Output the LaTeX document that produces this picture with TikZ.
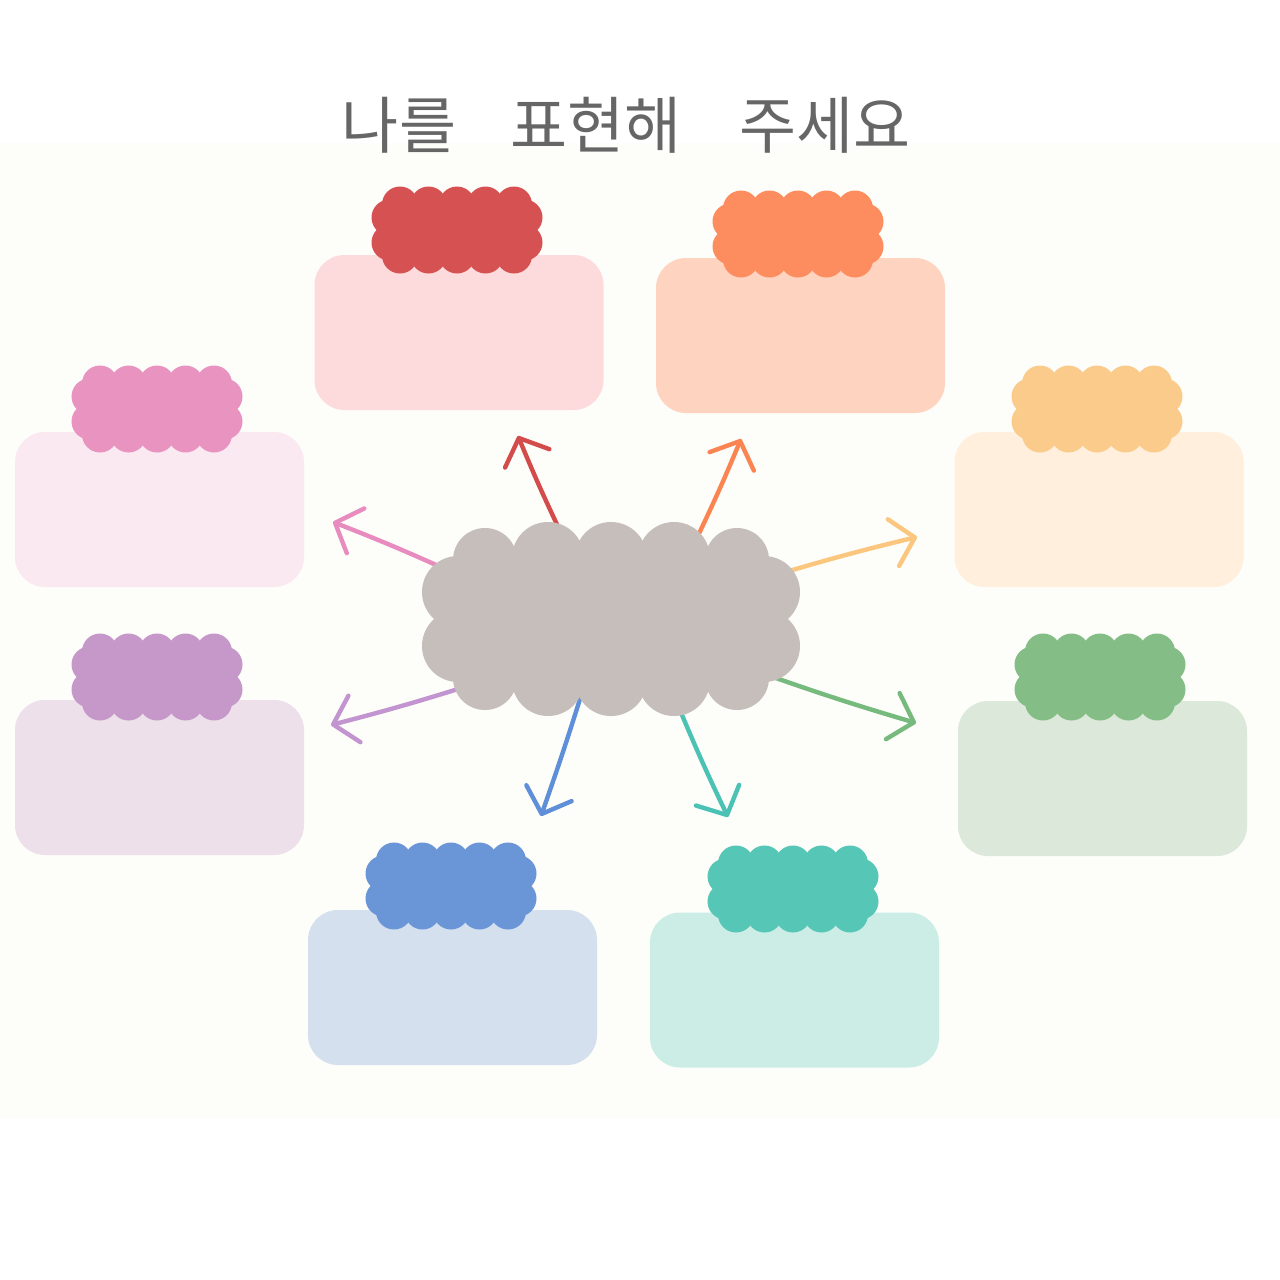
\documentclass[tikz,border=0pt]{standalone}
\usepackage{fontspec}
\newfontfamily\krfont{Noto Sans CJK KR}
\usetikzlibrary{arrows.meta}
\definecolor{bgcream}{HTML}{FDFDF9}
\definecolor{titlegray}{HTML}{666666}
\definecolor{cloudgray}{HTML}{C5BEBA}
% strong colours
\definecolor{cRed}{HTML}{D65252}
\definecolor{cOrange}{HTML}{FD8C5E}
\definecolor{cPink}{HTML}{E893C0}
\definecolor{cYellow}{HTML}{FACB8B}
\definecolor{cPurple}{HTML}{C598C9}
\definecolor{cGreen}{HTML}{84BE86}
\definecolor{cBlue}{HTML}{6A96D8}
\definecolor{cTeal}{HTML}{56C6B6}
% arrow colours
\definecolor{aRed}{HTML}{D44B4B}
\definecolor{aOrange}{HTML}{FB8552}
\definecolor{aPink}{HTML}{E88CC0}
\definecolor{aYellow}{HTML}{FBC67E}
\definecolor{aPurple}{HTML}{C295D0}
\definecolor{aGreen}{HTML}{76BA7D}
\definecolor{aBlue}{HTML}{5E8FD8}
\definecolor{aTeal}{HTML}{4CC2B5}
% box colours
\definecolor{bRed}{HTML}{FDDADB}
\definecolor{bOrange}{HTML}{FED3C0}
\definecolor{bPink}{HTML}{FBE9F1}
\definecolor{bYellow}{HTML}{FFEFDC}
\definecolor{bPurple}{HTML}{EEE0EA}
\definecolor{bGreen}{HTML}{DCE8D9}
\definecolor{bBlue}{HTML}{D4E0EE}
\definecolor{bTeal}{HTML}{CCEDE6}
\newcommand{\smallcloud}[3]{%
  \begin{scope}[shift={(#1,#2)}]
    \fill[#3] (-68,-26) rectangle (68,26);
    \foreach \xx in {-57,-28.5,0,28.5,57}{\fill[#3] (\xx,-25.5) circle[radius=18]; \fill[#3] (\xx,25.5) circle[radius=18];}
    \foreach \yy in {-12.5,12.5}{\fill[#3] (-67.5,\yy) circle[radius=18]; \fill[#3] (67.5,\yy) circle[radius=18];}
  \end{scope}}
\begin{document}
\begin{tikzpicture}[x=0.5pt,y=-0.5pt,
  infobox/.style={rounded corners=15pt, minimum width=144.5pt, minimum height=77.5pt, inner sep=0pt, draw=none},
  arr/.style={line width=2.2pt, line cap=round, -{Straight Barb[length=11pt,width=24pt,round]}},
  titletext/.style={font=\krfont\fontsize{31pt}{31pt}\selectfont, text=titlegray, inner sep=0pt}]
\useasboundingbox (0,0) rectangle (1280,1280);
\fill[white] (0,0) rectangle (1280,1280);
\fill[bgcream] (0,143) rectangle (1280,1118);
% title
\node[titletext] (t1) at (399,125) {나를};
\node[titletext] (t2) at (596,125) {표현해};
\node[titletext] (t3) at (825,125) {주세요};
% boxes
\node[infobox, fill=bRed] (boxRed) at (459,332.5) {};
\node[infobox, fill=bOrange] (boxOrange) at (800.5,335.5) {};
\node[infobox, fill=bPink] (boxPink) at (159.5,509.5) {};
\node[infobox, fill=bYellow] (boxYellow) at (1099,509.5) {};
\node[infobox, fill=bPurple] (boxPurple) at (159.5,777.5) {};
\node[infobox, fill=bGreen] (boxGreen) at (1102.5,778.5) {};
\node[infobox, fill=bBlue] (boxBlue) at (452.5,987.5) {};
\node[infobox, fill=bTeal] (boxTeal) at (794.5,990) {};
% small clouds
\smallcloud{457}{230}{cRed}
\smallcloud{798}{234}{cOrange}
\smallcloud{157}{409}{cPink}
\smallcloud{1097}{409}{cYellow}
\smallcloud{157}{677}{cPurple}
\smallcloud{1100}{677}{cGreen}
\smallcloud{451}{886}{cBlue}
\smallcloud{793}{889}{cTeal}
% arrows
\coordinate (sRed) at (562,535);    \coordinate (eRed) at (518,436);
\coordinate (sOrange) at (694,544); \coordinate (eOrange) at (741,439);
\coordinate (sPink) at (454,573);   \coordinate (ePink) at (333,522);
\coordinate (sYellow) at (779,574); \coordinate (eYellow) at (917,537);
\coordinate (sPurple) at (474,684); \coordinate (ePurple) at (331,725);
\coordinate (sGreen) at (756,671);  \coordinate (eGreen) at (916,723);
\coordinate (sBlue) at (585,683);   \coordinate (eBlue) at (541,816);
\coordinate (sTeal) at (677,703);   \coordinate (eTeal) at (728,817);
\draw[arr, aRed] (sRed) to[bend left=1.5] (eRed);
\draw[arr, aOrange] (sOrange) to[bend right=1.5] (eOrange);
\draw[arr, aPink] (sPink) to[bend right=1.5] (ePink);
\draw[arr, aYellow] (sYellow) to[bend left=1.5] (eYellow);
\draw[arr, aPurple] (sPurple) to[bend left=1.5] (ePurple);
\draw[arr, aGreen] (sGreen) to[bend right=1.5] (eGreen);
\draw[arr, aBlue] (sBlue) to[bend left=1] (eBlue);
\draw[arr, aTeal] (sTeal) to[bend right=1.5] (eTeal);
% central cloud
\begin{scope}[shift={(611,619)}]
  \fill[cloudgray] (-155,-61) rectangle (155,61);
  \foreach \xx in {-63,0,63}{\fill[cloudgray] (\xx,-61) circle[radius=36]; \fill[cloudgray] (\xx,61) circle[radius=36];}
  \foreach \xx in {-126,126}{\fill[cloudgray] (\xx,-59) circle[radius=32]; \fill[cloudgray] (\xx,59) circle[radius=32];}
  \foreach \yy in {-27,27}{\fill[cloudgray] (-153,\yy) circle[radius=36]; \fill[cloudgray] (153,\yy) circle[radius=36];}
\end{scope}
\node[inner sep=0pt, minimum size=0pt] (centre) at (611,619) {};
\end{tikzpicture}
\end{document}
